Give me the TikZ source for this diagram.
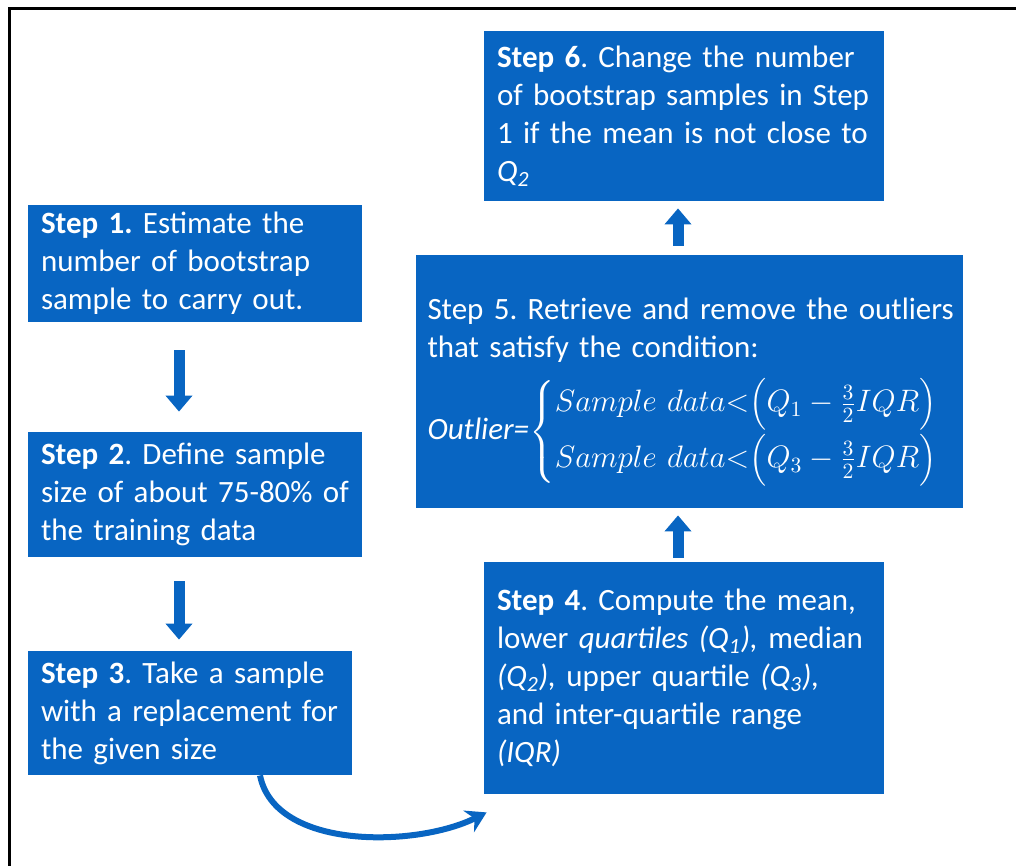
\RequirePackage{fix-cm}
\documentclass[tikz,border=0pt]{standalone}
\usepackage{fontspec}
\setmainfont{Carlito}
\usepackage{amsmath}
\usetikzlibrary{arrows.meta, positioning, calc}
\definecolor{StepBlue}{RGB}{8,101,194}
\tikzset{
  stepbox/.style={fill=StepBlue, text=white, align=left, inner xsep=6.5pt, inner ysep=0pt,
    font=\fontsize{15.5}{19}\selectfont\frenchspacing},
  flowarrow/.style={draw=StepBlue, line width=5.5pt, -{Triangle[width=13pt,length=8pt]}},
  curvearrow/.style={draw=StepBlue, line width=3pt, -{Stealth[width=12pt,length=10pt]}},
}

\begin{document}
\begin{tikzpicture}[x=0.5pt, y=-0.5pt]
\useasboundingbox (0,0) rectangle (1016,866);
% outer frame (only left and top edges show)
\draw[line width=1.5pt] (9,866) -- (9,9) -- (1016,9);

% left column
\node[stepbox, minimum width=167pt, minimum height=58.5pt, text width=154pt] (s1) at (195,263.5)
  {\textbf{Step 1.} Estimate the\\ number of bootstrap\\ sample to carry out.};
\node[stepbox, minimum width=167pt, minimum height=62.5pt, text width=154pt] (s2) at (195,494.5)
  {\textbf{Step 2}. Define sample\\ size of about 75-80\% of\\ the training data};
\node[stepbox, minimum width=162pt, minimum height=62pt, text width=149pt] (s3) at (190,713)
  {\textbf{Step 3}. Take a sample\\ with a replacement for\\ the given size};

% right column
\node[stepbox, minimum width=200pt, minimum height=116pt, text width=187pt] (s4) at (684,678)
  {\textbf{Step 4}. Compute the mean,\\
   lower \textit{quartiles (Q\textsubscript{1}),} median\\
   \textit{(Q\textsubscript{2}),} upper quartile \textit{(Q\textsubscript{3}),}\\
   and inter-quartile range\\
   \textit{(IQR)}};
\node[stepbox, minimum width=273.5pt, minimum height=126.5pt, text width=262pt, inner xsep=5.75pt] (s5) at (689.5,381.5)
  {\rule{0pt}{22pt}\mbox{Step 5. Retrieve and remove the outliers}\\
   that satisfy the condition:\\[6pt]
   \textit{Outlier=}$\begin{cases}
     Sample\ data{<}\Bigl(Q_1-\tfrac{3}{2}IQR\Bigr)\\[2pt]
     Sample\ data{<}\Bigl(Q_3-\tfrac{3}{2}IQR\Bigr)
   \end{cases}$};
\node[stepbox, minimum width=200pt, minimum height=85pt, text width=187pt] (s6) at (684,116)
  {\textbf{Step 6}. Change the number\\ of bootstrap samples in Step\\ 1 if the mean is not close to\\ \textit{Q\textsubscript{2}}};

% connectors
\draw[flowarrow, shorten <=14pt, shorten >=10pt] ($(s1.south)+(-16,0)$) -- ($(s2.north)+(-16,0)$);
\draw[flowarrow, shorten <=12pt, shorten >=5.5pt] ($(s2.south)+(-16,0)$) -- ($(s3.north)+(-11,0)$);
\draw[curvearrow] ($(s3.south)+(70,0)$) .. controls +(15,75) and +(-70,35) .. ($(s4.south west)+(3,18)$);
\draw[flowarrow, shorten <=2pt, shorten >=3.5pt] ($(s4.north)+(-6,0)$) -- ($(s5.south)+(-11.5,0)$);
\draw[flowarrow, shorten <=4.5pt, shorten >=3.5pt] ($(s5.north)+(-11.5,0)$) -- ($(s6.south)+(-6,0)$);
\end{tikzpicture}
\end{document}
